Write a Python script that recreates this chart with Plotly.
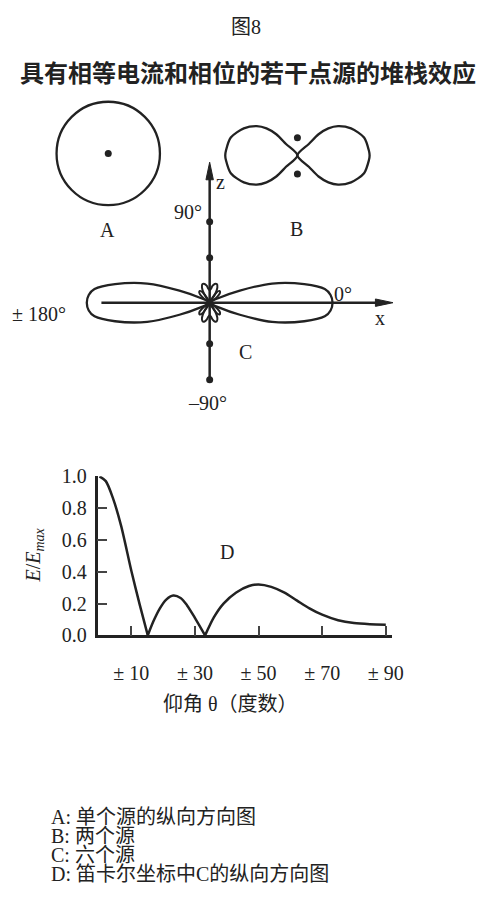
import math
import plotly.graph_objects as go

# ---------------- data ----------------
# Panel D: relative field strength vs elevation angle
theta_deg = [0, 2, 4.3, 6.8, 10.1, 12.7, 15.2,
             17, 19, 21, 23.2, 25.5, 27.5, 30, 33.2,
             36, 39, 43, 47, 50, 54, 58, 62, 66, 70, 75, 80, 85, 90]
e_ratio = [1.0, 0.97, 0.86, 0.69, 0.40, 0.19, 0.0,
           0.09, 0.17, 0.225, 0.25, 0.235, 0.19, 0.11, 0.0,
           0.115, 0.20, 0.27, 0.31, 0.32, 0.305, 0.27, 0.22, 0.17, 0.13, 0.095, 0.077,
           0.07, 0.067]
d_xtick_vals = [10, 30, 50, 70, 90]
d_xtick_text = ["± 10", "± 30", "± 50", "± 70", "± 90"]
d_ytick_vals = [0.0, 0.2, 0.4, 0.6, 0.8, 1.0]

# Panel B: upper edge of one lobe of the two-source pattern (first quadrant)
b_lobe_x = [0, 0.156, 0.289, 0.423, 0.556, 0.733, 0.911, 0.977, 0.987]
b_lobe_y = [0, 0.156, 0.289, 0.369, 0.400, 0.369, 0.244, 0.067, 0]

# Panel C: upper edge of the main lobe of the six-source pattern
c_main_x = [0, 0.079, 0.246, 0.508, 0.770, 0.937, 0.984, 1.0]
c_main_y = [0, 0.040, 0.098, 0.156, 0.151, 0.111, 0.063, 0]
# Panel C: minor lobes (elevation in degrees, gain relative to main lobe)
c_minor_a_deg = [30, 38, 44, 50, 56, 62]
c_minor_a_gain = [0, 0.08, 0.118, 0.125, 0.10, 0]
c_minor_b_deg = [55, 58, 63, 69, 75, 80, 85, 90]
c_minor_b_gain = [0, 0.085, 0.138, 0.162, 0.158, 0.14, 0.113, 0.102]

notes = ["A: 单个源的纵向方向图", "B: 两个源", "C: 六个源", "D: 笛卡尔坐标中C的纵向方向图"]

# ---------------- layout constants (page pixels) ----------------
W, H = 483, 900
INK = "#222222"
SERIF = "Liberation Serif, Noto Sans CJK SC, serif"
LW = 2.3

A_CENTER, A_RADIUS = (111, 146), 53
B_CENTER, B_SCALE = (305, 148), 75
C_CENTER, C_SCALE = (215, 299), 126
B_SOURCES_Y = [130, 167]
Z_SOURCES_Y = [216, 253, 341, 378]

fig = go.Figure()


def line(xs, ys, shape="spline", width=LW, smoothing=1.0):
    fig.add_trace(go.Scatter(
        x=xs, y=ys, mode="lines", xaxis="x", yaxis="y",
        line=dict(color=INK, width=width, shape=shape, smoothing=smoothing),
        hoverinfo="skip", showlegend=False))


def lobe_from_edge(ex, ey, sx, center, scale):
    """Closed lobe: upper edge out to the tip, mirrored lower edge back."""
    cx, cy = center
    xs = list(ex) + list(ex[-2::-1])
    ys = list(ey) + [-v for v in ey[-2::-1]]
    return ([cx + sx * scale * x for x in xs], [cy - scale * y for y in ys])


def polar_lobe(deg, gain, sx, sy, center, scale):
    cx, cy = center
    xs = [cx + sx * scale * g * math.cos(math.radians(d)) for d, g in zip(deg, gain)]
    ys = [cy - sy * scale * g * math.sin(math.radians(d)) for d, g in zip(deg, gain)]
    return xs, ys


# ---- Panel A: single source, isotropic ----
fig.add_shape(type="circle", xref="x", yref="y",
              x0=A_CENTER[0] - A_RADIUS, x1=A_CENTER[0] + A_RADIUS,
              y0=A_CENTER[1] - A_RADIUS, y1=A_CENTER[1] + A_RADIUS,
              line=dict(color=INK, width=LW))

# ---- Panel B: two sources, figure eight ----
for sx in (1, -1):
    xs, ys = lobe_from_edge(b_lobe_x, b_lobe_y, sx, B_CENTER, B_SCALE)
    line(xs, ys, smoothing=0.8)

# ---- Panel C: six sources ----
for sx in (1, -1):
    xs, ys = lobe_from_edge(c_main_x, c_main_y, sx, C_CENTER, C_SCALE)
    line(xs, ys)
    for sy in (1, -1):
        xs, ys = polar_lobe(c_minor_a_deg, c_minor_a_gain, sx, sy, C_CENTER, C_SCALE)
        line(xs, ys, width=2)
        xs, ys = polar_lobe(c_minor_b_deg, c_minor_b_gain, sx, sy, C_CENTER, C_SCALE)
        line(xs, ys, width=2)

# axes of the pattern diagram
cx, cy = C_CENTER
line([cx, cx], [Z_SOURCES_Y[-1], 168], shape="linear", width=2.5)
line([104, 390], [cy, cy], shape="linear", width=2.5)
# arrow heads
fig.add_trace(go.Scatter(x=[cx, cx - 3.8, cx + 3.8, cx], y=[155, 173, 173, 155],
                         mode="lines", fill="toself", fillcolor=INK,
                         line=dict(color=INK, width=1), hoverinfo="skip",
                         showlegend=False, xaxis="x", yaxis="y"))
fig.add_trace(go.Scatter(x=[403, 385, 385, 403], y=[cy, cy - 3.8, cy + 3.8, cy],
                         mode="lines", fill="toself", fillcolor=INK,
                         line=dict(color=INK, width=1), hoverinfo="skip",
                         showlegend=False, xaxis="x", yaxis="y"))

# source dots
dot_x = [A_CENTER[0]] + [B_CENTER[0]] * len(B_SOURCES_Y) + [cx] * len(Z_SOURCES_Y)
dot_y = [A_CENTER[1]] + B_SOURCES_Y + Z_SOURCES_Y
fig.add_trace(go.Scatter(x=dot_x, y=dot_y, mode="markers", xaxis="x", yaxis="y",
                         marker=dict(color=INK, size=7), hoverinfo="skip",
                         showlegend=False))

# ---- Panel D: Cartesian plot of C ----
nulls = [i for i, v in enumerate(e_ratio) if v == 0.0]
bounds = [0] + nulls + [len(e_ratio) - 1]
for a, b in zip(bounds[:-1], bounds[1:]):
    fig.add_trace(go.Scatter(
        x=theta_deg[a:b + 1], y=e_ratio[a:b + 1], mode="lines",
        xaxis="x2", yaxis="y2",
        line=dict(color=INK, width=2.5, shape="spline", smoothing=0.8),
        hoverinfo="skip", showlegend=False))


# ---------------- text ----------------
def label(x, y, text, size=20, xanchor="center", family=SERIF, **kw):
    fig.add_annotation(x=x, y=y, xref="x", yref="y", text=text, showarrow=False,
                       xanchor=xanchor, yanchor="middle",
                       font=dict(family=family, size=size, color=INK), **kw)


label(252, 16, "图8", size=20)
label(254, 62, "<b>具有相等电流和相位的若干点源的堆栈效应</b>", size=24,
      family="Noto Sans CJK SC, sans-serif")
label(110, 224, "A")
label(304, 223, "B")
label(226, 175, "z")
label(209, 206, "90°", xanchor="right")
label(352, 290, "0°")
label(390, 315, "x")
label(70, 311, "± 180°", xanchor="right")
label(252, 350, "C")
label(213, 402, "–90°")
label(233, 555, "D")
label(35, 558, "<i>E</i>/<i>E<sub>max</sub></i>", textangle=-90)
label(236, 710, "仰角 θ（度数）", size=20)
for i, t in enumerate(notes):
    label(50, 826 + 19.5 * i, t, size=20, xanchor="left")

# ---------------- axes ----------------
fig.update_layout(
    width=W, height=H, margin=dict(l=0, r=0, t=0, b=0),
    paper_bgcolor="white", plot_bgcolor="rgba(0,0,0,0)",
    xaxis=dict(domain=[0, 1], range=[0, W], visible=False, fixedrange=True),
    yaxis=dict(domain=[0, 1], range=[H, 0], visible=False, fixedrange=True),
    xaxis2=dict(domain=[100 / W, 401.5 / W], range=[-0.6, 91.8], anchor="y2",
                showline=True, linecolor=INK, linewidth=2.5, showgrid=False,
                zeroline=False, ticks="inside", ticklen=10, tickwidth=1.5,
                tickcolor="#444", tickvals=d_xtick_vals, ticktext=d_xtick_text,
                ticklabelstandoff=18,
                tickfont=dict(family=SERIF, size=20, color=INK)),
    yaxis2=dict(domain=[(H - 640) / H, (H - 477) / H], range=[0, 1.0], anchor="x2",
                showline=True, linecolor=INK, linewidth=2.5, showgrid=False,
                zeroline=False, ticks="inside", ticklen=10, tickwidth=1.5,
                tickcolor="#444", tickvals=d_ytick_vals, tickformat=".1f",
                ticklabelstandoff=4,
                tickfont=dict(family=SERIF, size=20, color=INK)),
)

fig.write_html("out.html", config={"displayModeBar": False})
